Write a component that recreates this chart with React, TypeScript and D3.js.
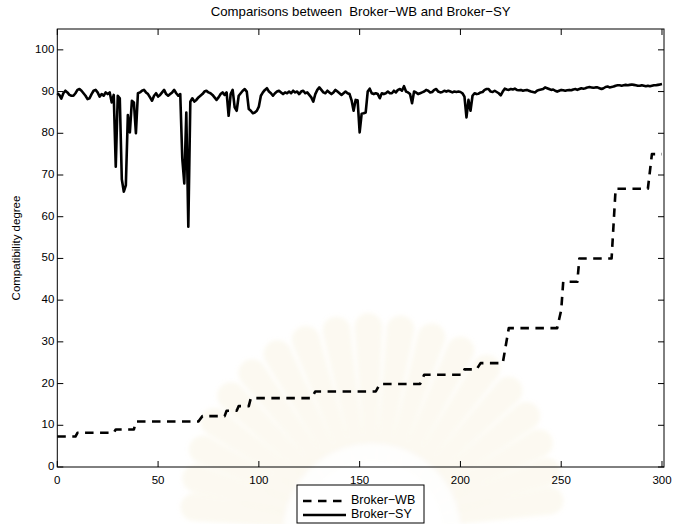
import React from 'react';
import * as d3 from 'd3';

// Figure size and plot frame
const W = 673;
const H = 524;
const frame = { left: 57.3, right: 664, top: 29, bottom: 467 };

const titleText = 'Comparisons between  Broker\u2212WB and Broker\u2212SY';
const yLabelText = 'Compatibility degree';
const seriesNames = ['Broker\u2212WB', 'Broker\u2212SY'];

const xDomain = [0, 301];
const yDomain = [0, 105];
const xTicks = [0, 50, 100, 150, 200, 250, 300];
const yTicks = [0, 10, 20, 30, 40, 50, 60, 70, 80, 90, 100];

// Broker-SY compatibility degree, one value per test case (0..300)
const brokerSY = [
  89.6, 89.2, 88.3, 89.6, 90.2, 89.8, 89.2, 89.0, 89.0, 89.6,
  90.4, 90.6, 90.2, 89.6, 89.0, 88.2, 88.4, 89.4, 90.2, 90.4,
  89.8, 88.8, 89.4, 89.0, 89.8, 89.4, 89.8, 87.4, 89.2, 72.0,
  89.0, 88.4, 69.0, 66.0, 67.5, 84.4, 80.2, 87.8, 87.4, 80.0,
  89.6, 89.8, 90.2, 90.4, 89.8, 89.4, 88.6, 87.8, 89.0, 89.6,
  88.8, 89.2, 89.8, 90.4, 89.4, 89.0, 89.4, 89.8, 90.4, 89.6,
  89.0, 89.4, 74.0, 68.0, 85.0, 57.6, 87.6, 88.4, 87.6, 88.0,
  88.6, 89.0, 89.4, 90.0, 90.2, 89.8, 89.6, 89.2, 88.6, 88.0,
  88.6, 89.4, 89.8, 89.2, 89.8, 84.2, 89.4, 90.4, 86.2, 85.4,
  89.0, 89.6, 90.2, 90.6, 90.0, 85.8, 85.4, 84.8, 85.0, 85.4,
  86.4, 89.0, 89.8, 90.4, 90.8, 90.0, 89.6, 89.0, 89.6, 90.0,
  90.2, 89.8, 89.4, 89.8, 89.6, 90.0, 89.6, 90.2, 89.8, 90.0,
  89.4, 90.0, 90.2, 89.6, 89.8, 89.2, 88.6, 87.6, 89.4, 90.4,
  91.0, 90.4, 89.8, 89.6, 90.2, 89.8, 89.4, 89.8, 90.4, 90.0,
  89.6, 89.2, 89.6, 90.0, 89.6, 89.4, 87.9, 85.4, 88.0, 87.9,
  80.2, 84.7, 84.8, 85.0, 90.0, 90.7, 89.6, 89.4, 89.6, 89.4,
  88.4, 89.6, 89.4, 89.6, 90.0, 89.6, 89.6, 90.2, 89.8, 90.4,
  90.6, 90.2, 91.3, 90.0, 89.8, 89.4, 87.2, 90.0, 89.8, 89.4,
  89.6, 89.8, 90.0, 90.4, 90.2, 89.8, 89.9, 90.4, 90.6, 90.0,
  89.8, 89.9, 90.2, 90.0, 90.2, 90.0, 89.8, 90.0, 89.9, 90.0,
  89.9, 89.6, 88.8, 83.8, 88.0, 85.4, 89.0, 89.6, 89.4, 89.5,
  89.8, 89.9, 90.4, 90.6, 90.6, 90.0, 89.9, 90.2, 89.9, 89.6,
  89.1, 90.0, 90.7, 90.5, 90.4, 90.6, 90.5, 90.7, 90.4, 90.3,
  90.4, 90.2, 90.3, 90.4, 90.2, 90.0, 89.9, 89.8, 90.2, 90.4,
  90.5, 90.6, 91.0, 90.8, 90.6, 90.4, 90.5, 90.2, 90.0, 90.2,
  90.4, 90.3, 90.2, 90.3, 90.4, 90.3, 90.5, 90.6, 90.4, 90.6,
  90.8, 90.7, 90.8, 91.0, 91.1, 91.0, 90.9, 91.0, 91.0, 90.8,
  90.6, 90.8, 91.1, 91.2, 91.0, 91.1, 91.2, 91.4, 91.5, 91.5,
  91.4, 91.5, 91.6, 91.5, 91.6, 91.7, 91.6, 91.5, 91.4, 91.4,
  91.5, 91.4, 91.3, 91.4, 91.3, 91.4, 91.5, 91.5, 91.6, 91.7,
  91.8,
];

// Broker-WB is a staircase: the test cases where its value changes
const brokerWBCase = [
  0, 9, 10, 28, 29, 38, 39, 70, 72, 83, 84, 89, 90, 95, 96, 126, 128,
  158, 160, 180, 182, 201, 202, 208, 210, 221, 224, 248, 250, 251,
  258, 259, 275, 277, 293, 295, 300,
];
const brokerWBValue = [
  7.3, 7.3, 8.2, 8.2, 9.0, 9.0, 10.9, 10.9, 12.2, 12.2, 13.5, 13.5, 14.6, 14.6, 16.5, 16.5, 18.1,
  18.1, 19.9, 19.9, 22.1, 22.1, 23.4, 23.4, 24.9, 24.9, 33.3, 33.3, 37.6, 44.4,
  44.4, 50.0, 50.0, 66.7, 66.7, 75.0, 75.0,
];

const FONT = 'Liberation Sans, Arial, Helvetica, sans-serif';

// Faint rayed emblem printed behind the figure
function Emblem() {
  const cx = 372;
  const cy = 532;
  const angles = d3.range(-172, -6, 9);
  return (
    <g filter="url(#soft)">
      {angles.map((a, k) => {
        const r1 = 175 + 30 * Math.sin((-a * Math.PI) / 180);
        const r0 = 70;
        const w0 = 6;
        const w1 = 14;
        const d = `M${r0},${-w0} L${r1},${-w1} A${w1},${w1} 0 0 1 ${r1},${w1} L${r0},${w0} Z`;
        return (
          <path
            key={k}
            d={d}
            transform={`translate(${cx},${cy}) rotate(${a})`}
            fill="#eedba8"
            opacity={0.16}
          />
        );
      })}
      <circle cx={cx} cy={cy} r={88} fill="#ffffff" opacity={0.9} />
    </g>
  );
}

export default function App() {
  const x = d3.scaleLinear().domain(xDomain).range([frame.left, frame.right]);
  const y = d3.scaleLinear().domain(yDomain).range([frame.bottom, frame.top]);

  const syPath = d3
    .line<number>()
    .x((_, i) => x(i))
    .y((d) => y(d))(brokerSY);

  const wbPoints = brokerWBCase.map((c, j) => [c, brokerWBValue[j]] as [number, number]);
  const wbPath = d3
    .line<[number, number]>()
    .x((p) => x(p[0]))
    .y((p) => y(p[1]))(wbPoints);

  const tickLen = 6;
  const lineW = 2.6;

  const legend = { x: 297, y: 485, w: 127, h: 38 };

  return (
    <svg
      width={W}
      height={H}
      viewBox={`0 0 ${W} ${H}`}
      style={{ position: 'absolute', left: 0, top: 0, background: '#ffffff' }}
      fontFamily={FONT}
    >
      <defs>
        <filter id="soft" x="-10%" y="-10%" width="120%" height="120%">
          <feGaussianBlur stdDeviation="2" />
        </filter>
      </defs>
      <rect x={0} y={0} width={W} height={H} fill="#ffffff" />
      <Emblem />

      {/* series */}
      <path d={wbPath || ''} fill="none" stroke="#000" strokeWidth={lineW} strokeDasharray="8.5,6.5" strokeLinejoin="round" />
      <path d={syPath || ''} fill="none" stroke="#000" strokeWidth={lineW} strokeLinejoin="round" />

      {/* frame */}
      <rect
        x={frame.left}
        y={frame.top}
        width={frame.right - frame.left}
        height={frame.bottom - frame.top}
        fill="none"
        stroke="#000"
        strokeWidth={1}
      />

      {/* x ticks, bottom and top, pointing inward */}
      {xTicks.map((t) => (
        <g key={`x${t}`}>
          <line x1={x(t)} x2={x(t)} y1={frame.bottom} y2={frame.bottom - tickLen} stroke="#000" strokeWidth={1} />
          <line x1={x(t)} x2={x(t)} y1={frame.top} y2={frame.top + tickLen} stroke="#000" strokeWidth={1} />
          <text x={x(t)} y={frame.bottom + 14} fontSize={11.5} textAnchor="middle" dominantBaseline="middle" fill="#000">
            {t}
          </text>
        </g>
      ))}

      {/* y ticks, left and right */}
      {yTicks.map((t) => (
        <g key={`y${t}`}>
          <line x1={frame.left} x2={frame.left + tickLen} y1={y(t)} y2={y(t)} stroke="#000" strokeWidth={1} />
          <line x1={frame.right} x2={frame.right - tickLen} y1={y(t)} y2={y(t)} stroke="#000" strokeWidth={1} />
          <text x={frame.left - 3} y={y(t)} fontSize={11.5} textAnchor="end" dominantBaseline="middle" fill="#000">
            {t}
          </text>
        </g>
      ))}

      <text
        x={(frame.left + frame.right) / 2}
        y={13}
        fontSize={13.2}
        textAnchor="middle"
        dominantBaseline="middle"
        style={{ whiteSpace: 'pre' }}
        fill="#000"
      >
        {titleText}
      </text>

      <text
        transform={`translate(17,${(frame.top + frame.bottom) / 2}) rotate(-90)`}
        fontSize={11.5}
        textAnchor="middle"
        dominantBaseline="middle"
        fill="#000"
      >
        {yLabelText}
      </text>

      {/* legend */}
      <g>
        <rect x={legend.x} y={legend.y} width={legend.w} height={legend.h} fill="#ffffff" stroke="#000" strokeWidth={1} />
        <line x1={legend.x + 6} x2={legend.x + 49} y1={legend.y + 16} y2={legend.y + 16} stroke="#000" strokeWidth={lineW} strokeDasharray="8.5,6.5" />
        <text x={legend.x + 54} y={legend.y + 16} fontSize={12.5} dominantBaseline="middle" fill="#000">
          {seriesNames[0]}
        </text>
        <line x1={legend.x + 6} x2={legend.x + 49} y1={legend.y + 30} y2={legend.y + 30} stroke="#000" strokeWidth={lineW} />
        <text x={legend.x + 54} y={legend.y + 30} fontSize={12.5} dominantBaseline="middle" fill="#000">
          {seriesNames[1]}
        </text>
      </g>
    </svg>
  );
}
